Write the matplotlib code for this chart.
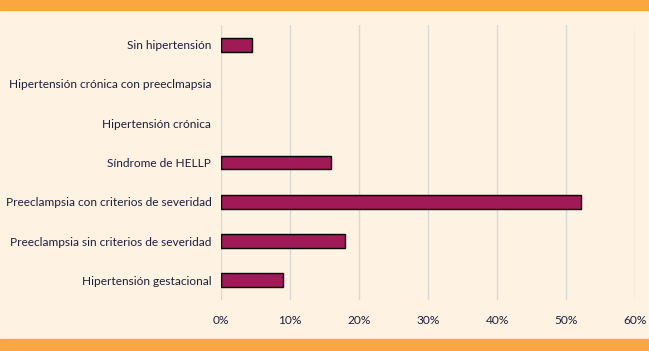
import matplotlib
matplotlib.use("Agg")
import matplotlib.pyplot as plt
from matplotlib.patches import Rectangle

categories = [
    "Hipertensión gestacional",
    "Preeclampsia sin criterios de severidad",
    "Preeclampsia con criterios de severidad",
    "Síndrome de HELLP",
    "Hipertensión crónica",
    "Hipertensión crónica con preeclmapsia",
    "Sin hipertensión",
]
values = [9, 18, 52.2, 16, 0, 0, 4.5]
xticks = [0, 10, 20, 30, 40, 50, 60]

bg = "#FEF3E3"
orange = "#F9A73E"
bar_color = "#A01A58"
text_color = "#1E1E3C"

plt.rcParams['font.family'] = ['Lato', 'DejaVu Sans']

fig = plt.figure(figsize=(6.49, 3.51), dpi=100, facecolor=bg)
# orange bands top and bottom
fig.patches.append(Rectangle((0, 1 - 10 / 351), 1, 10 / 351, transform=fig.transFigure,
                             color=orange, zorder=0))
fig.patches.append(Rectangle((0, 0), 1, 12 / 351, transform=fig.transFigure,
                             color=orange, zorder=0))

ax = fig.add_axes([221 / 649, 1 - 300 / 351, (635.3 - 221) / 649, 275 / 351])
ax.set_facecolor(bg)

y = range(len(categories))
# no outline on empty categories
lw = [1 if v > 0 else 0 for v in values]
ax.barh(y, values, height=0.35, color=bar_color, edgecolor="black", linewidth=lw, zorder=3)

ax.set_xlim(0, 60)
ax.set_ylim(-0.5, len(categories) - 0.5)
ax.set_xticks(xticks)
ax.set_xticklabels([f"{t}%" for t in xticks])
ax.set_yticks(list(y))
ax.set_yticklabels(categories)
ax.grid(axis="x", color="#D8D8D8", linewidth=1, zorder=0)
for s in ax.spines.values():
    s.set_visible(False)
ax.tick_params(axis="both", length=0, labelsize=8.6, colors=text_color)
ax.tick_params(axis="y", pad=7)
ax.tick_params(axis="x", pad=11)

fig.savefig("out.png", dpi=100, facecolor=bg)
